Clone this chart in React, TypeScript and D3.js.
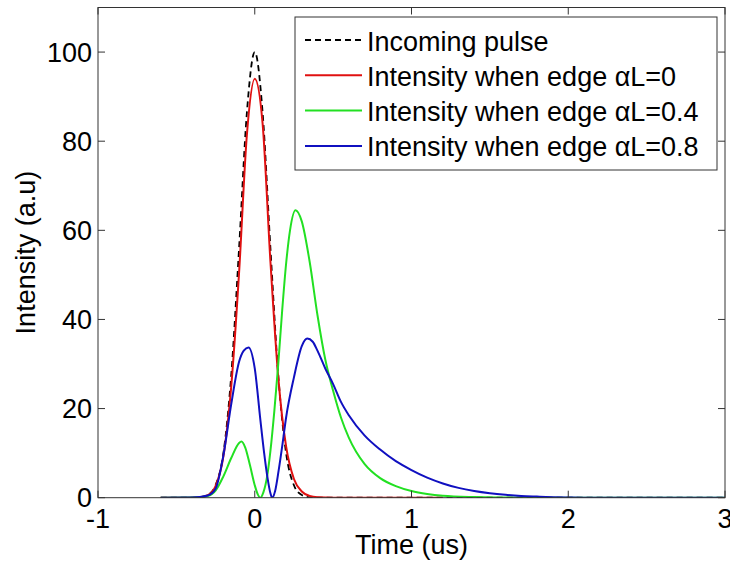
import React from "react";
import * as d3 from "d3";

const xTicks = [-1, 0, 1, 2, 3];
const yTicks = [0, 20, 40, 60, 80, 100];

const incomingT = [-0.6, -0.4, -0.35, -0.3, -0.25, -0.2, -0.15, -0.1, -0.05, 0, 0.05, 0.1, 0.15, 0.2, 0.25, 0.3, 0.35, 0.4, 0.6, 3];
const incomingV = [0, 0.01, 0.09, 0.6, 2.8, 10, 27.5, 56, 86.5, 100, 86.5, 56, 27.5, 10, 2.8, 0.6, 0.09, 0.01, 0, 0];

const redT = [-0.6, -0.4, -0.35, -0.3, -0.25, -0.2, -0.15, -0.1, -0.05, 0, 0.05, 0.1, 0.15, 0.2, 0.25, 0.3, 0.35, 0.4, 0.5, 1.2];
const redV = [0, 0.01, 0.1, 0.55, 2.6, 9.3, 25, 50.5, 81.5, 94, 84, 53, 27, 11.5, 4.2, 1.4, 0.4, 0.1, 0, 0];

const greenT = [-0.6, -0.4, -0.3, -0.25, -0.2, -0.15, -0.1, -0.085, -0.06, -0.03, 0, 0.02, 0.036, 0.055, 0.08, 0.1, 0.125, 0.15, 0.175, 0.2, 0.225, 0.26, 0.3, 0.35, 0.4, 0.45, 0.5, 0.55, 0.6, 0.7, 0.8, 0.9, 1.0, 1.1, 1.2, 1.4, 1.6, 1.8, 3];
const greenV = [0, 0.02, 0.4, 1.6, 4.8, 8.9, 12.3, 12.6, 11.2, 7.2, 2.8, 0.7, 0, 1.2, 5, 10.5, 19.5, 30, 42, 52.5, 60, 64.5, 62, 53, 41, 31, 24, 18, 13.5, 7.6, 4.4, 2.6, 1.5, 0.85, 0.45, 0.15, 0.05, 0, 0];

const blueT = [-0.6, -0.4, -0.3, -0.25, -0.2, -0.15, -0.1, -0.07, -0.04, 0, 0.036, 0.06, 0.08, 0.1, 0.111, 0.13, 0.152, 0.175, 0.2, 0.25, 0.3, 0.335, 0.37, 0.4, 0.45, 0.5, 0.55, 0.6, 0.7, 0.8, 0.9, 1.0, 1.1, 1.2, 1.3, 1.4, 1.5, 1.6, 1.7, 1.8, 1.9, 2.0, 2.1, 3];
const blueV = [0, 0.02, 0.5, 2, 9.5, 21, 30.5, 33, 33.7, 29, 17.4, 10, 4.8, 1, 0, 1.5, 6, 11.5, 18, 27, 34, 35.7, 35, 33, 29, 25.5, 21.5, 18.5, 14, 10.8, 8.2, 6.2, 4.5, 3.2, 2.2, 1.5, 1.0, 0.65, 0.4, 0.25, 0.12, 0.05, 0, 0];

const seriesNames = [
  "Incoming pulse",
  "Intensity when edge \u03b1L=0",
  "Intensity when edge \u03b1L=0.4",
  "Intensity when edge \u03b1L=0.8",
];
const seriesColors = ["#000000", "#e01010", "#22e022", "#1010c0"];
const seriesDash = ["6,4", null, null, null];
const seriesT = [incomingT, redT, greenT, blueT];
const seriesV = [incomingV, redV, greenV, blueV];

const W = 730;
const H = 566;
const left = 98;
const right = 725;
const top = 7.5;
const bottom = 497.7;
const FONT = "'Liberation Sans', Arial, sans-serif";

export default function App() {
  const x = d3.scaleLinear().domain([-1, 3]).range([left, right]);
  const y = d3.scaleLinear().domain([0, 110]).range([bottom, top]);
  const line = d3
    .line<[number, number]>()
    .x((d) => x(d[0]))
    .y((d) => y(d[1]))
    .curve(d3.curveMonotoneX);

  const axisColor = "#333";
  const tickLen = 7;

  return (
    <svg
      width={W}
      height={H}
      style={{ position: "absolute", left: 0, top: 0, background: "#fff" }}
      fontFamily={FONT}
    >
      <defs>
        <clipPath id="plotclip">
          <rect x={left} y={top} width={right - left} height={bottom - top} />
        </clipPath>
      </defs>
      <rect x={0} y={0} width={W} height={H} fill="#fff" />
      <g clipPath="url(#plotclip)">
        {seriesT.map((ts, i) => {
          const pts: [number, number][] = ts.map((t, j) => [t, seriesV[i][j]]);
          return (
            <path
              key={i}
              d={line(pts) || ""}
              fill="none"
              stroke={seriesColors[i]}
              strokeWidth={i === 0 ? 1.8 : 2}
              strokeDasharray={seriesDash[i] || undefined}
            />
          );
        })}
      </g>
      {/* box */}
      <rect x={left} y={top} width={right - left} height={bottom - top} fill="none" stroke={axisColor} strokeWidth={1} />
      {/* x ticks */}
      {xTicks.map((t) => (
        <g key={"xt" + t}>
          <line x1={x(t)} x2={x(t)} y1={bottom} y2={bottom - tickLen} stroke={axisColor} />
          <line x1={x(t)} x2={x(t)} y1={top} y2={top + tickLen} stroke={axisColor} />
          <text x={x(t)} y={528} fontSize={27} textAnchor="middle" fill="#000">
            {t}
          </text>
        </g>
      ))}
      {/* y ticks */}
      {yTicks.map((v) => (
        <g key={"yt" + v}>
          <line x1={left} x2={left + tickLen} y1={y(v)} y2={y(v)} stroke={axisColor} />
          <line x1={right} x2={right - tickLen} y1={y(v)} y2={y(v)} stroke={axisColor} />
          <text x={92} y={y(v) + 9.7} fontSize={27} textAnchor="end" fill="#000">
            {v}
          </text>
        </g>
      ))}
      {/* axis labels */}
      <text x={(left + right) / 2} y={554} fontSize={27} textAnchor="middle" fill="#000">
        Time (us)
      </text>
      <text
        transform={`translate(35, ${(top + bottom) / 2}) rotate(-90)`}
        fontSize={27}
        textAnchor="middle"
        fill="#000"
      >
        Intensity (a.u)
      </text>
      {/* legend */}
      <rect x={295} y={17} width={422} height={153} fill="#fff" stroke={axisColor} strokeWidth={1} />
      {seriesNames.map((name, i) => {
        const ly = 40 + i * 35.3;
        return (
          <g key={"lg" + i}>
            <line
              x1={305}
              x2={362}
              y1={ly}
              y2={ly}
              stroke={seriesColors[i]}
              strokeWidth={i === 0 ? 1.8 : 2}
              strokeDasharray={seriesDash[i] || undefined}
            />
            <text x={367} y={ly + 10.5} fontSize={27} fill="#000">
              {name}
            </text>
          </g>
        );
      })}
    </svg>
  );
}
